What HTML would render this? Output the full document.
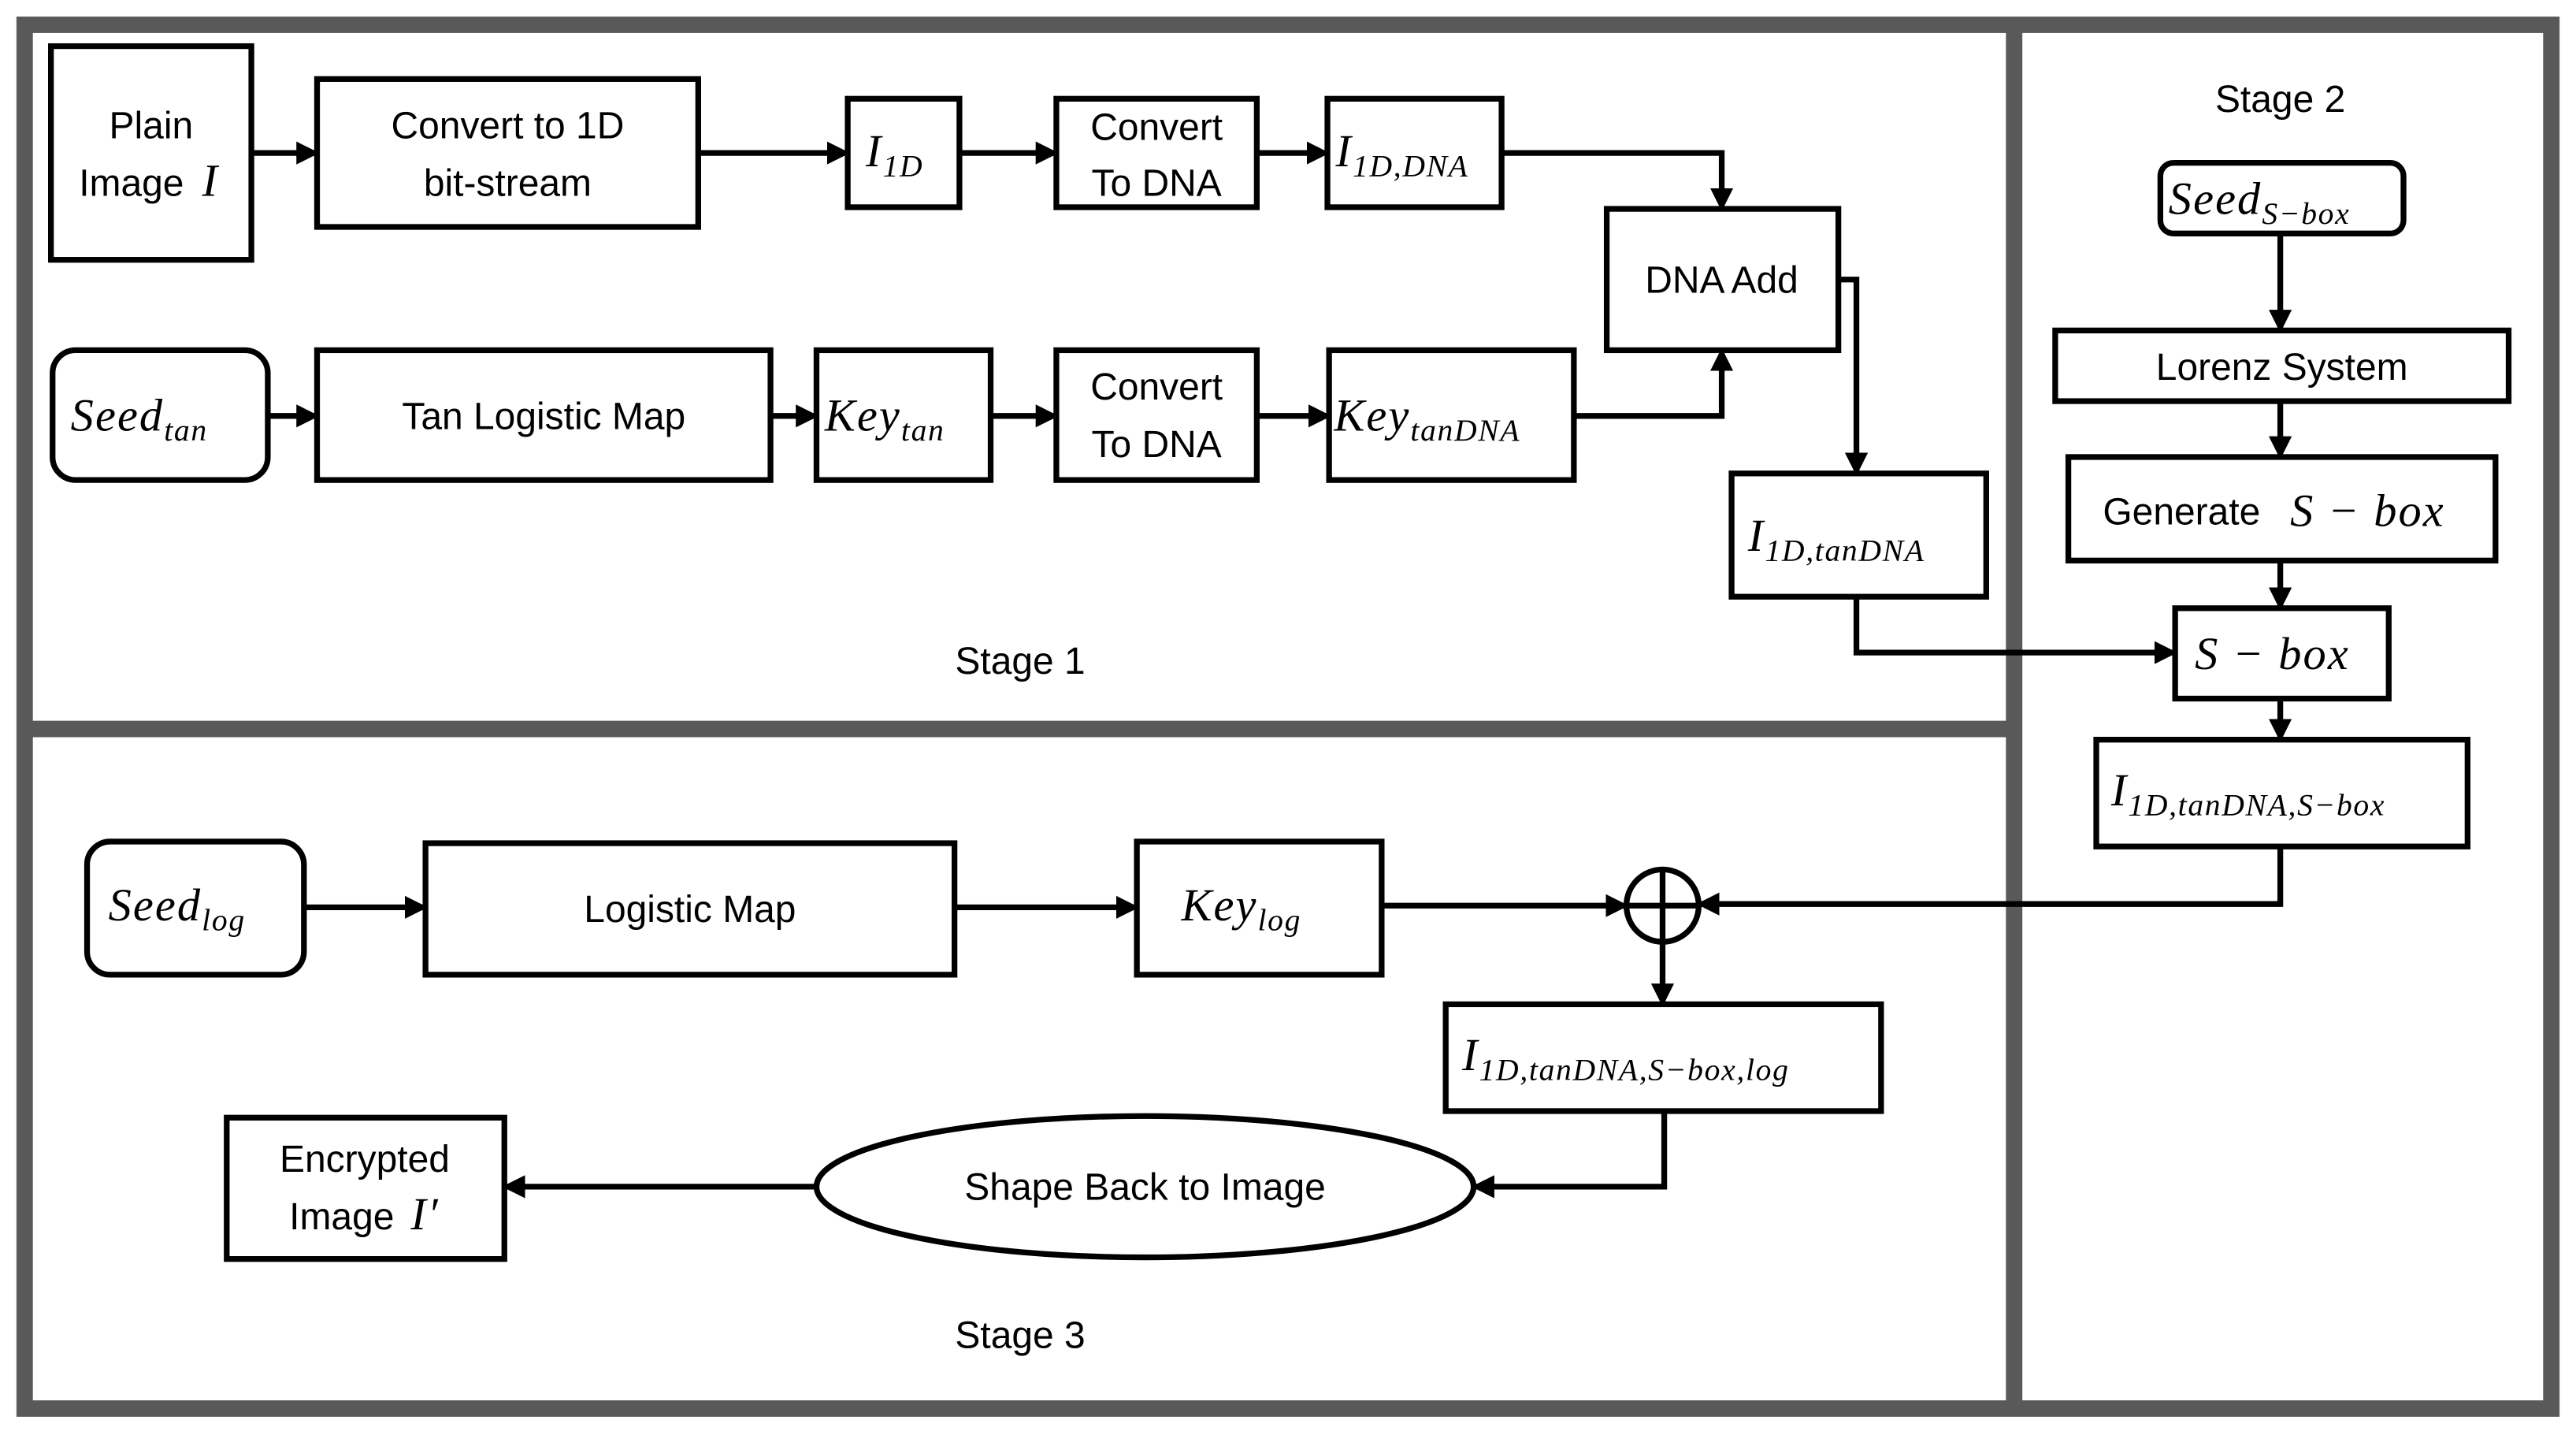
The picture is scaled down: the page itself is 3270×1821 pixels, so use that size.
<!DOCTYPE html>
<html><head><meta charset="utf-8"><style>
html,body{margin:0;padding:0;background:#fff;}
svg{display:block;}
text{font-family:"Liberation Sans",sans-serif;font-size:23px;fill:#000;}
.m{font-family:"Liberation Serif",serif;font-style:italic;font-size:28px;letter-spacing:1px;}
.s{font-size:19px;letter-spacing:0.8px;}
.b{fill:none;stroke:#000;stroke-width:3.5;}
.l{fill:none;stroke:#000;stroke-width:3.5;}
</style></head><body>
<svg width="3270" height="1821" viewBox="0 0 1568 873" xmlns="http://www.w3.org/2000/svg">
<defs><marker id="a" viewBox="0 0 10 10" refX="9" refY="5" markerWidth="4" markerHeight="4" orient="auto" markerUnits="strokeWidth"><path d="M0,0L10,5L0,10z" fill="#000"/></marker></defs>
<rect x="0" y="0" width="1568" height="873" fill="#fff"/>
<rect x="15" y="15" width="1538" height="842" fill="none" stroke="#595959" stroke-width="10"/>
<line x1="1226" y1="15" x2="1226" y2="857" stroke="#595959" stroke-width="10"/>
<line x1="15" y1="443.5" x2="1226" y2="443.5" stroke="#595959" stroke-width="10"/>

<!-- Stage 1 -->
<rect class="b" x="31" y="28" width="122" height="130"/>
<text x="92" y="84" text-anchor="middle">Plain</text>
<text x="80" y="119" text-anchor="middle">Image</text><text class="m" x="123" y="119">I</text>
<rect class="b" x="193" y="48" width="232" height="90"/>
<text x="309" y="84" text-anchor="middle">Convert to 1D</text>
<text x="309" y="119" text-anchor="middle">bit-stream</text>
<rect class="b" x="516" y="60" width="68" height="66"/>
<text class="m" x="527" y="101">I<tspan class="s" dy="6">1D</tspan></text>
<rect class="b" x="643" y="60" width="122" height="66"/>
<text x="704" y="85" text-anchor="middle">Convert</text>
<text x="704" y="119" text-anchor="middle">To DNA</text>
<rect class="b" x="808" y="60" width="106" height="66"/>
<text class="m" x="813" y="101">I<tspan class="s" dy="6">1D,DNA</tspan></text>
<rect class="b" x="978" y="127" width="141" height="86"/>
<text x="1048" y="178" text-anchor="middle">DNA Add</text>

<rect class="b" x="32" y="213" width="131" height="79" rx="14"/>
<text class="m" x="43" y="262">Seed<tspan class="s" dy="6">tan</tspan></text>
<rect class="b" x="193" y="213" width="276" height="79"/>
<text x="331" y="261" text-anchor="middle">Tan Logistic Map</text>
<rect class="b" x="497" y="213" width="106" height="79"/>
<text class="m" x="502" y="262">Key<tspan class="s" dy="6">tan</tspan></text>
<rect class="b" x="643" y="213" width="122" height="79"/>
<text x="704" y="243" text-anchor="middle">Convert</text>
<text x="704" y="278" text-anchor="middle">To DNA</text>
<rect class="b" x="809" y="213" width="149" height="79"/>
<text class="m" x="812" y="262">Key<tspan class="s" dy="6">tanDNA</tspan></text>
<rect class="b" x="1054" y="288" width="155" height="75"/>
<text class="m" x="1064" y="335">I<tspan class="s" dy="6">1D,tanDNA</tspan></text>
<text x="621" y="410" text-anchor="middle">Stage 1</text>

<path class="l" d="M153,93H193" marker-end="url(#a)"/>
<path class="l" d="M425,93H516" marker-end="url(#a)"/>
<path class="l" d="M584,93H643" marker-end="url(#a)"/>
<path class="l" d="M765,93H808" marker-end="url(#a)"/>
<path class="l" d="M914,93H1048V127" marker-end="url(#a)"/>
<path class="l" d="M163,253H193" marker-end="url(#a)"/>
<path class="l" d="M469,253H497" marker-end="url(#a)"/>
<path class="l" d="M603,253H643" marker-end="url(#a)"/>
<path class="l" d="M765,253H809" marker-end="url(#a)"/>
<path class="l" d="M958,253H1048V213" marker-end="url(#a)"/>
<path class="l" d="M1119,170H1130V288" marker-end="url(#a)"/>
<path class="l" d="M1130,363V397H1324" marker-end="url(#a)"/>

<!-- Stage 2 -->
<text x="1388" y="68" text-anchor="middle">Stage 2</text>
<rect class="b" x="1315" y="99" width="148" height="43" rx="8"/>
<text class="m" x="1320" y="130">Seed<tspan class="s" dy="6">S−box</tspan></text>
<rect class="b" x="1251" y="201" width="276" height="43"/>
<text x="1389" y="231" text-anchor="middle">Lorenz System</text>
<rect class="b" x="1259" y="278" width="260" height="63"/>
<text x="1280" y="319">Generate</text><text class="m" x="1394" y="320">S − box</text>
<rect class="b" x="1324" y="370" width="130" height="55"/>
<text class="m" x="1336" y="407">S − box</text>
<rect class="b" x="1276" y="450" width="226" height="65"/>
<text class="m" x="1285" y="490">I<tspan class="s" dy="6">1D,tanDNA,S−box</tspan></text>
<path class="l" d="M1388,142V201" marker-end="url(#a)"/>
<path class="l" d="M1388,244V278" marker-end="url(#a)"/>
<path class="l" d="M1388,341V370" marker-end="url(#a)"/>
<path class="l" d="M1388,425V450" marker-end="url(#a)"/>
<path class="l" d="M1388,515V550H1034" marker-end="url(#a)"/>

<!-- Stage 3 -->
<rect class="b" x="53" y="512" width="132" height="81" rx="14"/>
<text class="m" x="66" y="560">Seed<tspan class="s" dy="6">log</tspan></text>
<rect class="b" x="259" y="513" width="322" height="80"/>
<text x="420" y="561" text-anchor="middle">Logistic Map</text>
<rect class="b" x="692" y="512" width="149" height="81"/>
<text class="m" x="719" y="560">Key<tspan class="s" dy="6">log</tspan></text>
<circle class="b" cx="1012" cy="551" r="22"/>
<path class="l" d="M990,551H1034M1012,529V573"/>
<rect class="b" x="880" y="611" width="265" height="65"/>
<text class="m" x="890" y="651">I<tspan class="s" dy="6">1D,tanDNA,S−box,log</tspan></text>
<ellipse class="b" cx="697" cy="722" rx="200" ry="43"/>
<text x="697" y="730" text-anchor="middle">Shape Back to Image</text>
<rect class="b" x="138" y="680" width="169" height="86"/>
<text x="222" y="713" text-anchor="middle">Encrypted</text>
<text x="208" y="748" text-anchor="middle">Image</text><text class="m" x="250" y="748">I′</text>
<text x="621" y="820" text-anchor="middle">Stage 3</text>
<path class="l" d="M185,552H259" marker-end="url(#a)"/>
<path class="l" d="M581,552H692" marker-end="url(#a)"/>
<path class="l" d="M841,551H990" marker-end="url(#a)"/>
<path class="l" d="M1012,573V611" marker-end="url(#a)"/>
<path class="l" d="M1013,676V722H897" marker-end="url(#a)"/>
<path class="l" d="M497,722H307" marker-end="url(#a)"/>
</svg>
</body></html>
